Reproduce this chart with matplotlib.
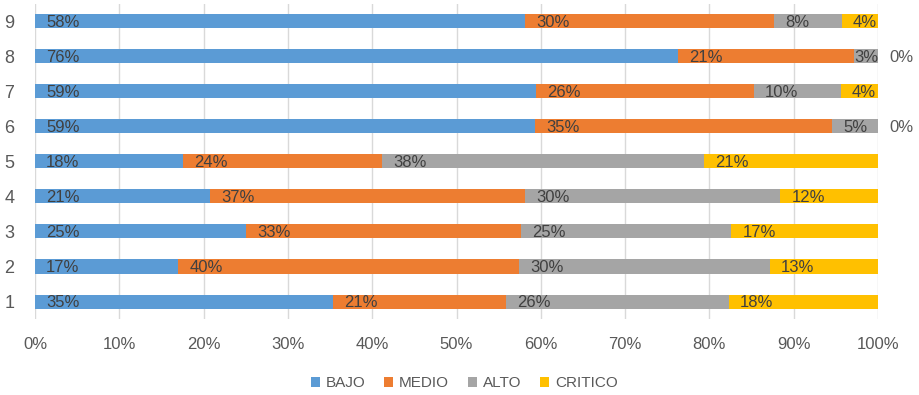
import matplotlib.pyplot as plt

# Porcentaje por nivel para cada ítem (1 abajo, 9 arriba)
items = ['1', '2', '3', '4', '5', '6', '7', '8', '9']
bajo = [35.3, 17.0, 25.0, 20.8, 17.6, 59.3, 59.4, 76.3, 58.1]
medio = [20.6, 40.4, 32.7, 37.3, 23.6, 35.3, 25.9, 20.9, 29.6]
alto = [26.4, 29.8, 24.9, 30.3, 38.2, 5.4, 10.3, 2.8, 8.0]
critico = [17.7, 12.8, 17.4, 11.6, 20.6, 0.0, 4.4, 0.0, 4.3]

niveles = ['BAJO', 'MEDIO', 'ALTO', 'CRITICO']
colores = ['#5B9BD5', '#ED7D31', '#A5A5A5', '#FFC000']
series = [bajo, medio, alto, critico]

plt.rcParams['font.family'] = ['Liberation Sans', 'DejaVu Sans']

fig = plt.figure(figsize=(9.19, 3.95), dpi=100)
ax = fig.add_axes([0.0381, 0.1924, 0.9173, 0.7975])

pos = list(range(len(items)))
izquierda = [0.0] * len(items)
for nombre, color, valores in zip(niveles, colores, series):
    ax.barh(pos, valores, left=izquierda, height=0.4, color=color,
            label=nombre, zorder=3)
    for y, x0, v in zip(pos, izquierda, valores):
        texto = f'{v:.0f}%'
        if v == 0:
            # sin segmento: etiqueta fuera de la barra, a la derecha
            ax.annotate(texto, xy=(x0, y), xytext=(8, -1),
                        textcoords='offset points', ha='left', va='center',
                        fontsize=12, color='#595959', zorder=4)
        elif v < 3.5:
            # segmento estrecho: la etiqueta se ajusta al final del segmento
            ax.annotate(texto, xy=(x0 + v, y), xytext=(0, -1),
                        textcoords='offset points', ha='right', va='center',
                        fontsize=12, color='#404040', zorder=4)
        else:
            ax.annotate(texto, xy=(x0, y), xytext=(8, -1),
                        textcoords='offset points', ha='left', va='center',
                        fontsize=12, color='#404040', zorder=4)
    izquierda = [a + b for a, b in zip(izquierda, valores)]

ax.set_xlim(0, 100)
ax.set_ylim(-0.5, len(items) - 0.5)
ax.set_xticks(range(0, 101, 10))
ax.set_xticklabels([f'{t}%' for t in range(0, 101, 10)])
ax.set_yticks(pos)
ax.set_yticklabels(items)
ax.tick_params(axis='both', length=0, labelsize=12, labelcolor='#595959')
ax.tick_params(axis='x', pad=13)
ax.tick_params(axis='y', pad=15, labelsize=13)

ax.grid(axis='x', color='#D9D9D9', linewidth=1, zorder=0)
ax.grid(axis='y', visible=False)
for s in ax.spines.values():
    s.set_visible(False)

fig.legend(loc='center', bbox_to_anchor=(0.505, 0.03), ncol=4, frameon=False,
           fontsize=11, labelcolor='#595959', handlelength=0.6,
           handleheight=0.6, handletextpad=0.4, columnspacing=1.2)

plt.savefig('out.png', dpi=100)
